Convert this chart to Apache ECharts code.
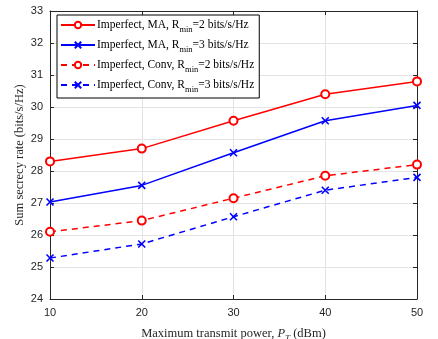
<!DOCTYPE html>
<html>
<head>
<meta charset="utf-8">
<script src="https://cdn.jsdelivr.net/npm/echarts@6/dist/echarts.min.js"></script>
<style>
  html, body { margin: 0; padding: 0; background: #fff; }
  #chart { width: 438px; height: 339px; }
</style>
</head>
<body>
<div id="chart"></div>
<script>
// Transmit power levels (dBm)
const powerLevels = [10, 20, 30, 40, 50];

// Sum secrecy rate (bits/s/Hz) for each scheme
const maR2 = [28.3, 28.7, 29.57, 30.4, 30.8];
const maR3 = [27.03, 27.55, 28.57, 29.57, 30.05];
const convR2 = [26.1, 26.45, 27.15, 27.85, 28.2];
const convR3 = [25.28, 25.72, 26.57, 27.4, 27.8];

const seriesNames = [
  'Imperfect, MA, R{sub|min}=2 bits/s/Hz',
  'Imperfect, MA, R{sub|min}=3 bits/s/Hz',
  'Imperfect, Conv, R{sub|min}=2 bits/s/Hz',
  'Imperfect, Conv, R{sub|min}=3 bits/s/Hz'
];

const yTicks = { min: 24, max: 33, interval: 1 };
const xTicks = { min: 10, max: 50, interval: 10 };

const serif = '"Liberation Serif", "Times New Roman", serif';
const sans = '"Liberation Sans", Arial, sans-serif';
const axisColor = '#262626';
const crossPath = 'path://M0,0L10,10M10,0L0,10';

function makeSeries(name, values, color, dashed, cross) {
  return {
    name: name,
    type: 'line',
    data: values.map((v, i) => [powerLevels[i], v]),
    symbol: cross ? crossPath : 'emptyCircle',
    symbolSize: cross ? 7 : 8,
    showSymbol: true,
    lineStyle: { color: color, width: 1.5, type: dashed ? [6, 5] : 'solid' },
    itemStyle: { color: color, borderColor: color, borderWidth: cross ? 1.6 : 1.5 },
    emphasis: { disabled: true },
    z: 3
  };
}

const chart = echarts.init(document.getElementById('chart'), null, { renderer: 'canvas' });

const baseAxisLine = { show: true, lineStyle: { color: axisColor, width: 1 } };

chart.setOption({
  animation: false,
  backgroundColor: '#fff',
  grid: { left: 50, right: 21, top: 11, bottom: 40, show: false, containLabel: false, outerBoundsMode: 'none' },
  legend: {
    left: 57,
    top: 15,
    orient: 'vertical',
    backgroundColor: '#fff',
    borderColor: '#000',
    borderWidth: 1,
    borderRadius: 0,
    padding: [4, 5, 4, 3],
    itemGap: 5,
    itemWidth: 34,
    itemHeight: 8,
    selectedMode: false,
    textStyle: {
      fontFamily: serif,
      fontSize: 11.5,
      color: '#000',
      padding: [0, 0, 0, -3],
      rich: {
        sub: { fontFamily: serif, fontSize: 8.5, color: '#000', padding: [9, 0, 0, 0] }
      }
    },
    data: seriesNames
  },
  xAxis: [
    {
      type: 'value',
      min: xTicks.min, max: xTicks.max, interval: xTicks.interval,
      position: 'bottom',
      name: 'Maximum transmit power, {it|P}{sub|T} (dBm)',
      nameLocation: 'middle',
      nameGap: 26,
      nameMoveOverlap: false,
      nameTextStyle: {
        fontFamily: serif, fontSize: 12.5, color: axisColor,
        rich: {
          it: { fontFamily: serif, fontStyle: 'italic', fontSize: 12.5, color: axisColor },
          sub: { fontFamily: serif, fontStyle: 'italic', fontSize: 9, color: axisColor, padding: [9, 0, 0, 0] }
        }
      },
      axisLine: baseAxisLine,
      axisTick: { show: true, inside: true, length: 4, lineStyle: { color: axisColor } },
      axisLabel: { fontFamily: sans, fontSize: 11, color: axisColor, margin: 8 },
      splitLine: { show: true, lineStyle: { color: '#e3e3e3', width: 1 } }
    },
    {
      type: 'value',
      min: xTicks.min, max: xTicks.max, interval: xTicks.interval,
      position: 'top',
      axisLine: baseAxisLine,
      axisTick: { show: true, inside: true, length: 4, lineStyle: { color: axisColor } },
      axisLabel: { show: false },
      splitLine: { show: false }
    }
  ],
  yAxis: [
    {
      type: 'value',
      min: yTicks.min, max: yTicks.max, interval: yTicks.interval,
      position: 'left',
      name: 'Sum secrecy rate (bits/s/Hz)',
      nameLocation: 'middle',
      nameGap: 24,
      nameMoveOverlap: false,
      nameTextStyle: { fontFamily: serif, fontSize: 12.5, color: axisColor },
      axisLine: baseAxisLine,
      axisTick: { show: true, inside: true, length: 4, lineStyle: { color: axisColor } },
      axisLabel: { fontFamily: sans, fontSize: 11, color: axisColor, margin: 7 },
      splitLine: { show: true, lineStyle: { color: '#e3e3e3', width: 1 } }
    },
    {
      type: 'value',
      min: yTicks.min, max: yTicks.max, interval: yTicks.interval,
      position: 'right',
      axisLine: baseAxisLine,
      axisTick: { show: true, inside: true, length: 4, lineStyle: { color: axisColor } },
      axisLabel: { show: false },
      splitLine: { show: false }
    }
  ],
  series: [
    makeSeries(seriesNames[0], maR2, '#ff0000', false, false),
    makeSeries(seriesNames[1], maR3, '#0000ff', false, true),
    makeSeries(seriesNames[2], convR2, '#ff0000', true, false),
    makeSeries(seriesNames[3], convR3, '#0000ff', true, true)
  ]
});
</script>
</body>
</html>
